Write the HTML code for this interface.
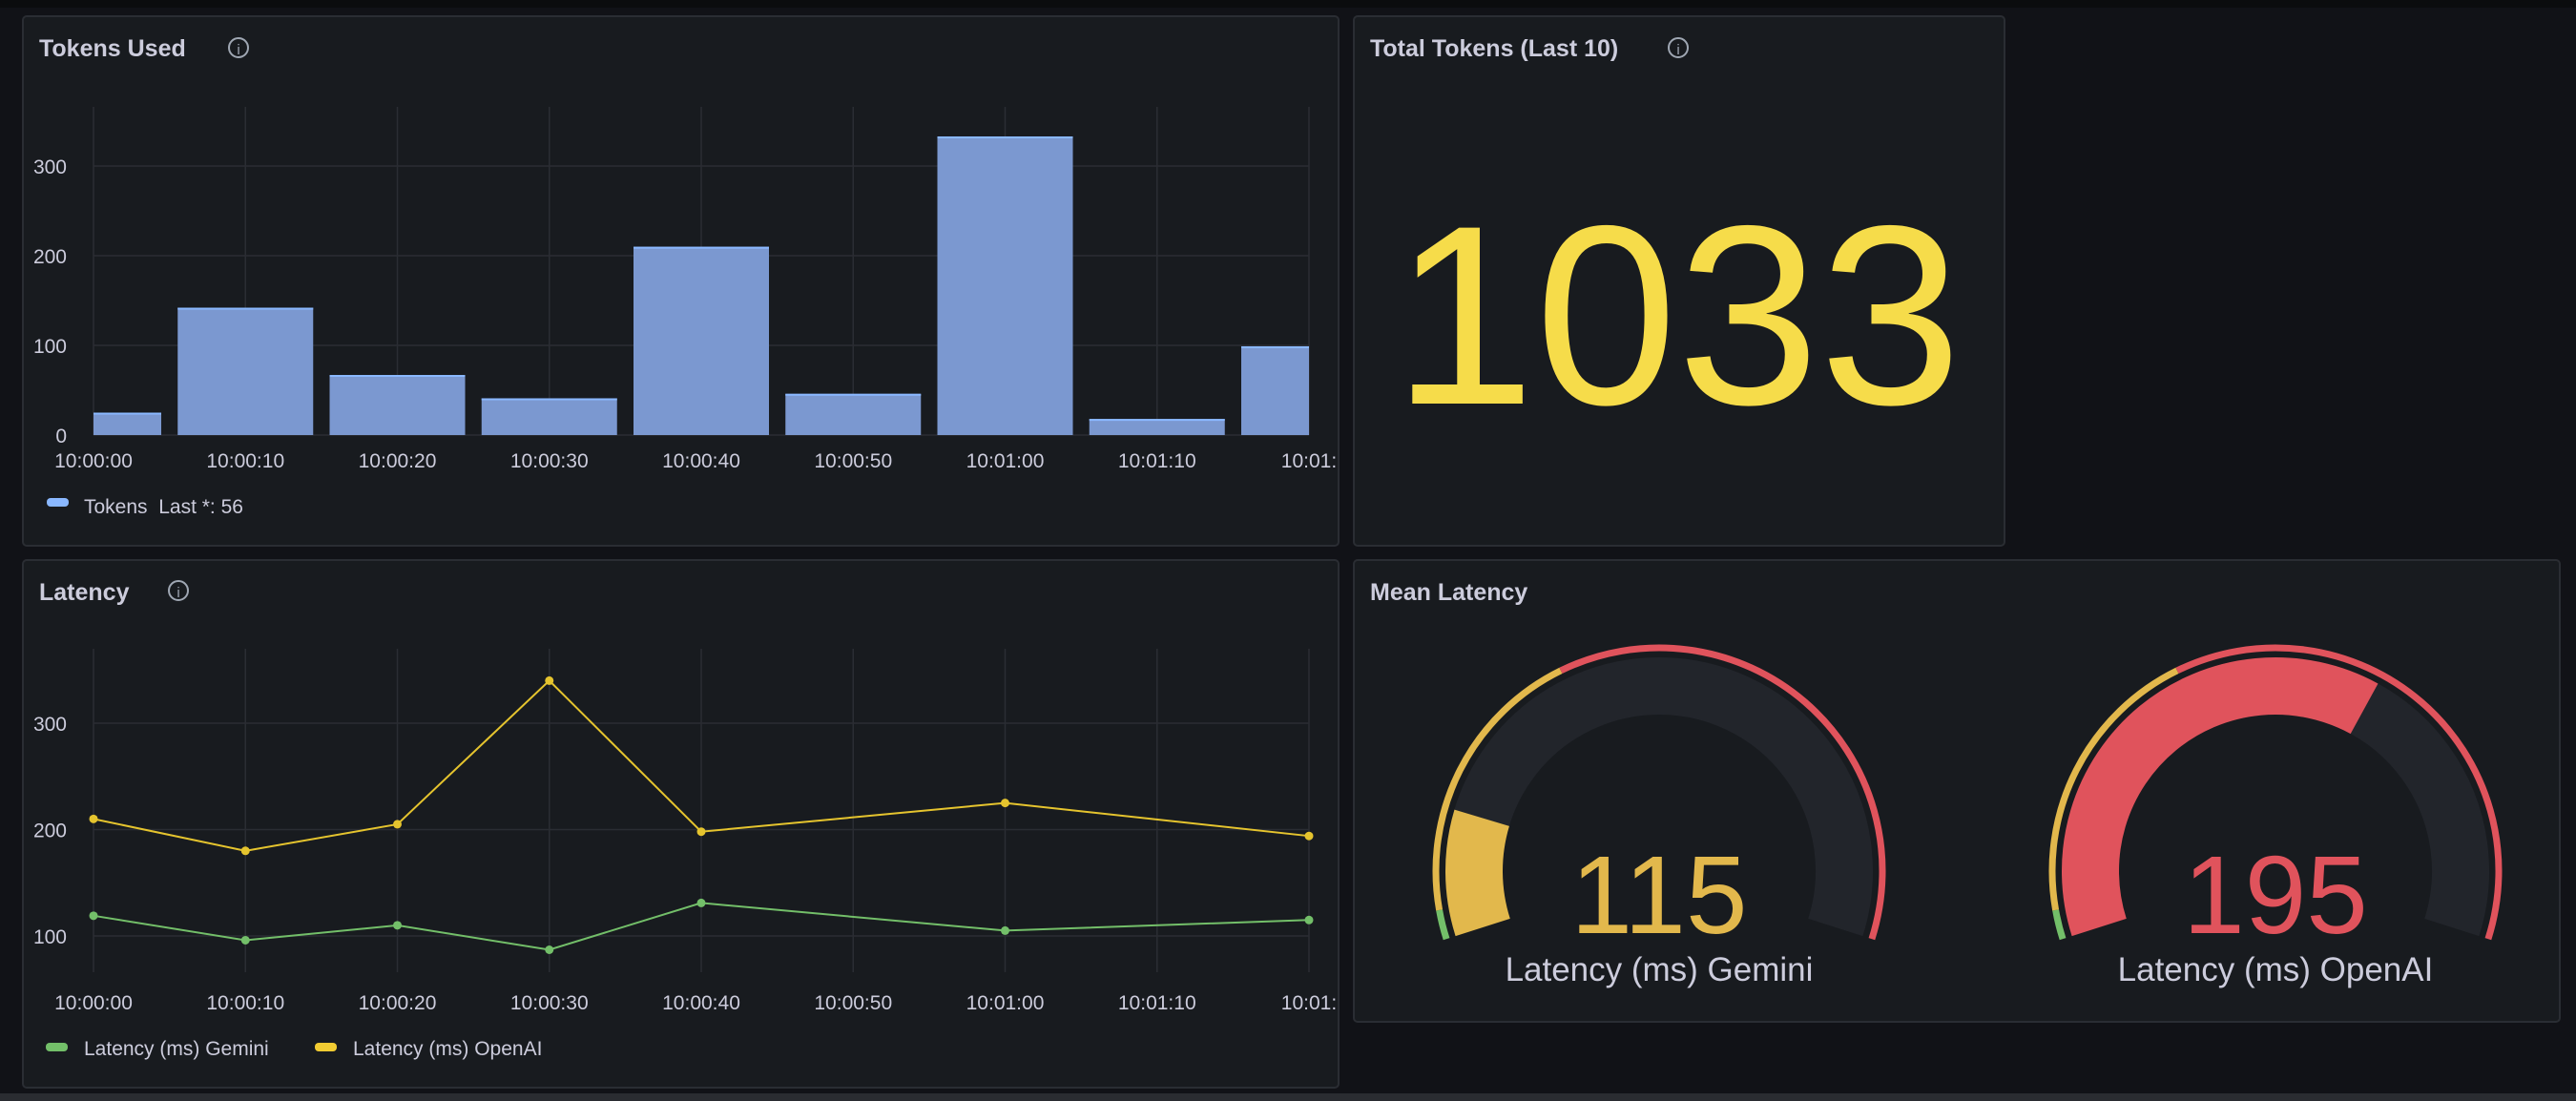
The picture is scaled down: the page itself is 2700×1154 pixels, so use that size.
<!DOCTYPE html>
<html><head><meta charset="utf-8"><style>
html,body{margin:0;padding:0;background:#111217;}
svg{display:block;font-family:"Liberation Sans",sans-serif;}
</style></head><body>
<svg id="root" width="2700" height="1154" viewBox="0 0 2700 1154" xmlns="http://www.w3.org/2000/svg">
<rect x="0" y="0" width="2700" height="1154" fill="#111217"/>
<rect x="0" y="0" width="2700" height="8" fill="#0b0c0e"/>
<rect x="0" y="1146" width="2700" height="8" fill="#2a2c31"/>
<g>
<rect x="24" y="17" width="1379" height="555" rx="4" fill="#181b1f" stroke="#2a2d33" stroke-width="2"/>
<text x="41" y="59" fill="#ccccdc" font-size="25" font-weight="bold">Tokens Used</text>
<g><circle cx="250" cy="50" r="10" fill="none" stroke="#9fa7b3" stroke-width="2"/><text x="250" y="57" fill="#9fa7b3" font-size="15" text-anchor="middle">i</text></g>
<g id="tokChart"></g>
<rect x="49" y="522" width="23" height="9" rx="4" fill="#8ab8ff"/>
<text x="88" y="538" fill="#ccccdc" font-size="21" xml:space="preserve">Tokens  Last *: 56</text>
</g>
<g>
<rect x="1419" y="17" width="682" height="555" rx="4" fill="#181b1f" stroke="#2a2d33" stroke-width="2"/>
<text x="1436" y="59" fill="#ccccdc" font-size="25" font-weight="bold">Total Tokens (Last 10)</text>
<g><circle cx="1759" cy="50" r="10" fill="none" stroke="#9fa7b3" stroke-width="2"/><text x="1759" y="57" fill="#9fa7b3" font-size="15" text-anchor="middle">i</text></g>
<text x="1758" y="423" fill="#f6dc4a" font-size="268" text-anchor="middle">1033</text>
</g>
<g>
<rect x="24" y="587" width="1379" height="553" rx="4" fill="#181b1f" stroke="#2a2d33" stroke-width="2"/>
<text x="41" y="629" fill="#ccccdc" font-size="25" font-weight="bold">Latency</text>
<g><circle cx="187" cy="619" r="10" fill="none" stroke="#9fa7b3" stroke-width="2"/><text x="187" y="626" fill="#9fa7b3" font-size="15" text-anchor="middle">i</text></g>
<g id="latChart"></g>
<rect x="48" y="1093" width="23" height="9" rx="4" fill="#73bf69"/>
<text x="88" y="1106" fill="#ccccdc" font-size="21">Latency (ms) Gemini</text>
<rect x="330" y="1093" width="23" height="9" rx="4" fill="#f2cc32"/>
<text x="370" y="1106" fill="#ccccdc" font-size="21">Latency (ms) OpenAI</text>
</g>
<g>
<rect x="1419" y="587" width="1264" height="484" rx="4" fill="#181b1f" stroke="#2a2d33" stroke-width="2"/>
<text x="1436" y="629" fill="#ccccdc" font-size="25" font-weight="bold">Mean Latency</text>
<g id="gauges"></g>
</g>
</svg>
<script>
const NS="http://www.w3.org/2000/svg";
function mk(parent,tag,attrs){const e=document.createElementNS(NS,tag);for(const k in attrs)e.setAttribute(k,attrs[k]);parent.appendChild(e);return e;}

const tokCategories=["10:00:00","10:00:10","10:00:20","10:00:30","10:00:40","10:00:50","10:01:00","10:01:10","10:01:20"];
const tokValues=[25,142,67,41,210,46,333,18,99];
const tokYTicks=[0,100,200,300];
const timeTickLabels=["10:00:00","10:00:10","10:00:20","10:00:30","10:00:40","10:00:50","10:01:00","10:01:10","10:01:"];

const latTimes=[0,10,20,30,40,60,80];
const geminiValues=[119,96,110,87,131,105,115];
const openaiValues=[210,180,205,340,198,225,194];
const latYTicks=[100,200,300];

const gaugeNames=["Latency (ms) Gemini","Latency (ms) OpenAI"];
const gaugeValues=[115,195];
const gaugeMin=88, gaugeMax=257;
const gaugeThresholds=[94,152];

const plotL=98, plotR=1372, step=(plotR-plotL)/8;
function tx(i){return plotL+i*step;}

(function(){
 const g=document.getElementById('tokChart');
 const top=112,y0=456,per=(456-174)/300;
 const y=v=>y0-v*per;
 const clip=mk(g,'clipPath',{id:'tokClip'});mk(clip,'rect',{x:plotL,y:top,width:plotR-plotL,height:y0-top+2});
 for(let i=0;i<9;i++){const l=mk(g,'line',{x1:tx(i),x2:tx(i),y1:top,y2:y0,stroke:'#2a2d33','stroke-width':1.5});
  }
 tokYTicks.forEach(v=>{const l=mk(g,'line',{x1:plotL,x2:plotR,y1:y(v),y2:y(v),stroke:'#2a2d33','stroke-width':1.5});
  
  const t=mk(g,'text',{x:plotL-28,y:y(v)+8,fill:'#ccccdc','font-size':21,'font-weight':500,'text-anchor':'end'});t.textContent=v;
  });
 const bw=142;const bg=mk(g,'g',{'clip-path':'url(#tokClip)'});
 tokValues.forEach((v,i)=>{const r=mk(bg,'rect',{x:tx(i)-bw/2,y:y(v),width:bw,height:y0-y(v),fill:'#7b98d0'});
  
  const ln=mk(bg,'line',{x1:tx(i)-bw/2,x2:tx(i)+bw/2,y1:y(v)+1,y2:y(v)+1,stroke:'#8ab8ff','stroke-width':2});
  });
 timeTickLabels.forEach((s,i)=>{const t=mk(g,'text',{x:tx(i),y:490,fill:'#ccccdc','font-size':21,'font-weight':500,'text-anchor':'middle'});
  t.textContent=s;});
})();

(function(){
 const g=document.getElementById('latChart');
 const top=680,bot=1019,per=(981-758)/200;
 const y=v=>981-(v-100)*per;
 const xt=s=>plotL+s/10*step;
 for(let i=0;i<9;i++){const l=mk(g,'line',{x1:tx(i),x2:tx(i),y1:top,y2:bot,stroke:'#2a2d33','stroke-width':1.5});
  }
 latYTicks.forEach(v=>{const l=mk(g,'line',{x1:plotL,x2:plotR,y1:y(v),y2:y(v),stroke:'#2a2d33','stroke-width':1.5});
  
  const t=mk(g,'text',{x:plotL-28,y:y(v)+8,fill:'#ccccdc','font-size':21,'font-weight':500,'text-anchor':'end'});t.textContent=v;
  });
 [[geminiValues,'#73bf69','gemini'],[openaiValues,'#e5c42e','openai']].forEach(([vals,c,n])=>{
  const pts=vals.map((v,i)=>xt(latTimes[i])+','+y(v)).join(' ');
  const pl=mk(g,'polyline',{points:pts,fill:'none',stroke:c,'stroke-width':2});
  
  vals.forEach((v,i)=>{const p=mk(g,'circle',{cx:xt(latTimes[i]),cy:y(v),r:4.5,fill:c});
   });
 });
 timeTickLabels.forEach((s,i)=>{const t=mk(g,'text',{x:tx(i),y:1058,fill:'#ccccdc','font-size':21,'font-weight':500,'text-anchor':'middle'});
  t.textContent=s;});
})();

(function(){
 const g=document.getElementById('gauges');
 const A0=197.7,SW=215.4;
 const ang=v=>A0-SW*Math.max(0,Math.min(1,(v-gaugeMin)/(gaugeMax-gaugeMin)));
 function arc(cx,cy,r,a1,a2){const p=a=>[cx+r*Math.cos(a*Math.PI/180),cy-r*Math.sin(a*Math.PI/180)];
  const [x1,y1]=p(a1),[x2,y2]=p(a2);const large=(a1-a2)>180?1:0;return `M${x1} ${y1} A${r} ${r} 0 ${large} 1 ${x2} ${y2}`;}
 const centers=[1739,2385],cy=913;
 const colors=['#73bf69','#e2b84c','#e0535c'];
 gaugeValues.forEach((v,k)=>{
  const cx=centers[k];
  const bounds=[gaugeMin,gaugeThresholds[0],gaugeThresholds[1],gaugeMax];
  for(let j=0;j<3;j++){const p=mk(g,'path',{d:arc(cx,cy,234,ang(bounds[j]),ang(bounds[j+1])),fill:'none',stroke:colors[j],'stroke-width':7});
   }
  const tr=mk(g,'path',{d:arc(cx,cy,194,A0,A0-SW),fill:'none',stroke:'#22252b','stroke-width':60});
  
  const col=v>=gaugeThresholds[1]?colors[2]:(v>=gaugeThresholds[0]?colors[1]:colors[0]);
  const f=mk(g,'path',{d:arc(cx,cy,194,A0,ang(v)),fill:'none',stroke:col,'stroke-width':60});
  
  const t=mk(g,'text',{x:cx,y:978,fill:col,'font-size':116,'text-anchor':'middle'});t.textContent=v;
  
  const l=mk(g,'text',{x:cx,y:1028,fill:'#ccccdc','font-size':35,'text-anchor':'middle'});l.textContent=gaugeNames[k];
  
 });
})();
</script>
</body></html>
